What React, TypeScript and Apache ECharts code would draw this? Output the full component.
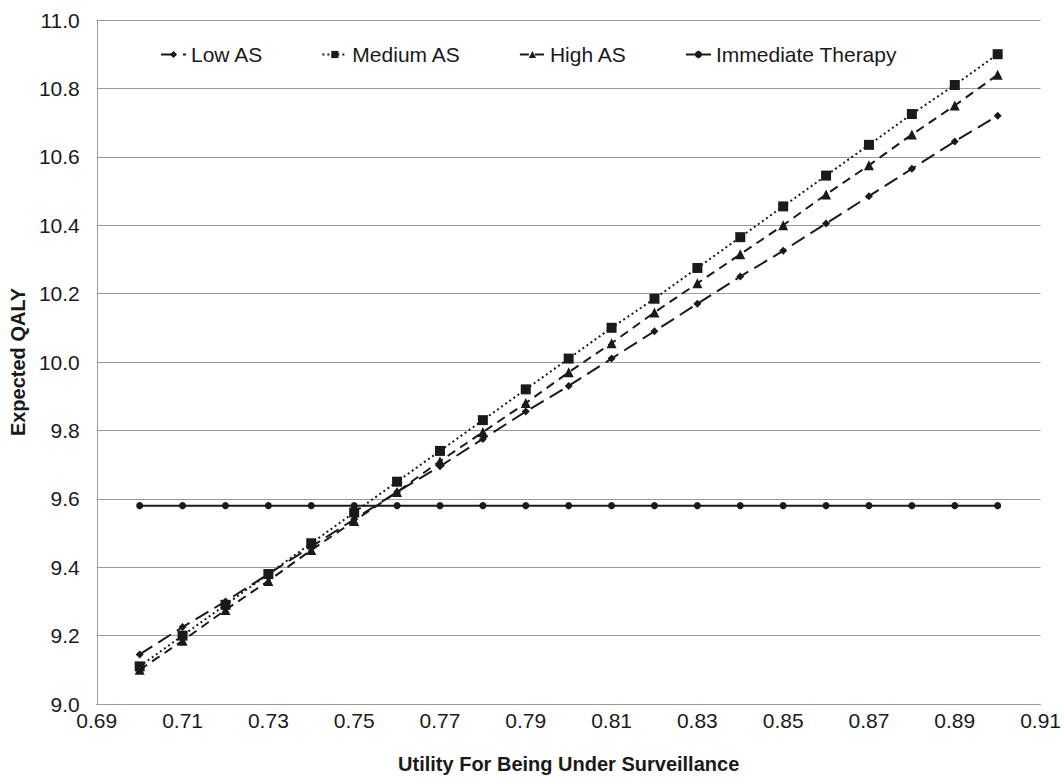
import React, { useEffect, useRef } from "react";
import * as echarts from "echarts";

const xValues = [0.70, 0.71, 0.72, 0.73, 0.74, 0.75, 0.76, 0.77, 0.78, 0.79, 0.80, 0.81, 0.82, 0.83, 0.84, 0.85, 0.86, 0.87, 0.88, 0.89, 0.90];
const lowAS = [9.145, 9.225, 9.30, 9.38, 9.46, 9.54, 9.62, 9.695, 9.775, 9.855, 9.93, 10.01, 10.09, 10.17, 10.25, 10.325, 10.405, 10.485, 10.565, 10.645, 10.72];
const mediumAS = [9.11, 9.20, 9.29, 9.38, 9.47, 9.56, 9.65, 9.74, 9.83, 9.92, 10.01, 10.10, 10.185, 10.275, 10.365, 10.455, 10.545, 10.635, 10.725, 10.81, 10.90];
const highAS = [9.10, 9.185, 9.275, 9.36, 9.45, 9.535, 9.62, 9.71, 9.795, 9.88, 9.97, 10.055, 10.145, 10.23, 10.315, 10.40, 10.49, 10.575, 10.665, 10.75, 10.84];
const immediate = [9.58, 9.58, 9.58, 9.58, 9.58, 9.58, 9.58, 9.58, 9.58, 9.58, 9.58, 9.58, 9.58, 9.58, 9.58, 9.58, 9.58, 9.58, 9.58, 9.58, 9.58];
const xTickLabels = [0.69, 0.71, 0.73, 0.75, 0.77, 0.79, 0.81, 0.83, 0.85, 0.87, 0.89, 0.91];
const seriesNames = ["Low AS", "Medium AS", "High AS", "Immediate Therapy"];

const FONT = "Liberation Sans, Arial, Helvetica, sans-serif";
const INK = "#1a1a1a";

function pairs(ys: number[]) {
  return xValues.map((x, i) => [x, ys[i]]);
}

export default function App() {
  const ref = useRef<HTMLDivElement>(null);
  useEffect(() => {
    if (!ref.current) return;
    const chart = echarts.init(ref.current, null, { renderer: "svg" });
    const mk = (name: string, data: number[], symbol: string, size: number, type: any) => ({
      name,
      type: "line",
      data: pairs(data),
      symbol,
      symbolSize: size,
      showSymbol: true,
      lineStyle: { color: INK, width: 2, type },
      itemStyle: { color: INK },
      emphasis: { disabled: true },
    });
    chart.setOption({
      animation: false,
      backgroundColor: "#ffffff",
      textStyle: { fontFamily: FONT },
      grid: { left: 91, right: 22, top: 20, bottom: 71, containLabel: false },
      legend: {
        data: seriesNames,
        left: 155,
        top: 39,
        itemWidth: 25,
        itemHeight: 9,
        itemGap: 58,
        textStyle: { fontFamily: FONT, fontSize: 21, color: INK },
      },
      xAxis: {
        type: "value",
        min: 0.69,
        max: 0.91,
        name: "Utility For Being Under Surveillance",
        nameLocation: "middle",
        nameGap: 50,
        nameTextStyle: { fontFamily: FONT, fontSize: 20, fontWeight: "bold", color: INK },
        axisLine: { show: true, lineStyle: { color: "#999999", width: 1 } },
        axisTick: { show: false },
        splitLine: { show: false },
        axisLabel: {
          customValues: xTickLabels,
          fontSize: 21,
          color: INK,
          margin: 6,
          formatter: (v: number) => v.toFixed(2),
        },
      },
      yAxis: {
        type: "value",
        min: 9,
        max: 11,
        interval: 0.2,
        name: "Expected QALY",
        nameLocation: "middle",
        nameGap: 62,
        nameRotate: 90,
        nameTextStyle: { fontFamily: FONT, fontSize: 20, fontWeight: "bold", color: INK },
        axisLine: { show: true, lineStyle: { color: "#999999", width: 1 } },
        axisTick: { show: false },
        splitLine: { show: true, lineStyle: { color: "#9a9a9a", width: 1 } },
        axisLabel: {
          fontSize: 21,
          color: INK,
          margin: 17,
          formatter: (v: number) => v.toFixed(1),
        },
      },
      series: [
        mk("Low AS", lowAS, "diamond", 8, [15, 7]),
        mk("Medium AS", mediumAS, "rect", 10, [2, 3]),
        mk("High AS", highAS, "triangle", 10, [9, 6]),
        mk("Immediate Therapy", immediate, "circle", 7, "solid"),
      ],
    });
    return () => chart.dispose();
  }, []);
  return (
    <div
      ref={ref}
      style={{ position: "fixed", left: 0, top: 0, width: 1064, height: 779 }}
    />
  );
}
